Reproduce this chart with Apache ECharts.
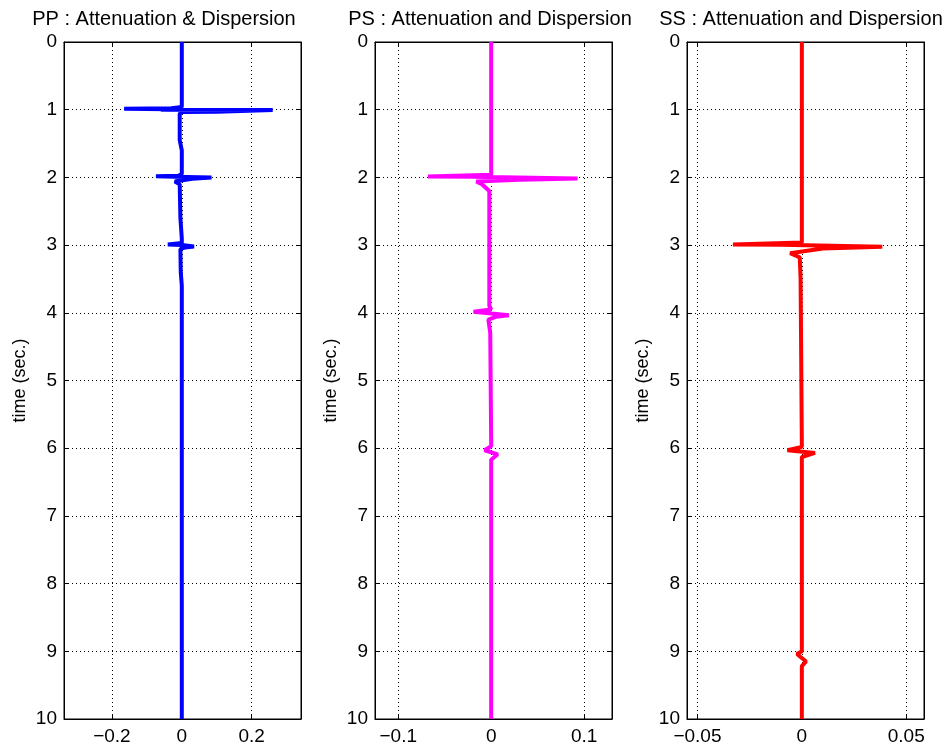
<!DOCTYPE html>
<html>
<head>
<meta charset="utf-8">
<script src="https://cdn.jsdelivr.net/npm/echarts@6/dist/echarts.min.js"></script>
<style>
  html, body { margin: 0; padding: 0; background: #fff; }
  #chart { width: 946px; height: 751px; }
</style>
</head>
<body>
<div id="chart"></div>
<script>
// traces: [amplitude, time (s)]
const ppTrace = [
  [0, 0], [0, 0.96], [-0.03, 0.978], [-0.165, 0.985], [-0.04, 0.992], [-0.06, 1.0],
  [0.26, 1.005], [0.262, 1.015], [0.1, 1.03], [0, 1.035], [-0.006, 1.06],
  [-0.006, 1.45], [0, 1.6], [0, 1.95], [-0.01, 1.975], [-0.074, 1.982],
  [-0.02, 1.99], [0.085, 2.0], [0.088, 2.012], [0.03, 2.02], [-0.02, 2.06],
  [-0.006, 2.1], [-0.004, 2.6], [0, 2.9], [0, 2.97], [-0.04, 2.99], [0, 3.0],
  [0.035, 3.02], [0.01, 3.035], [-0.004, 3.06], [-0.003, 3.4], [0, 3.6], [0, 10]
];
const psTrace = [
  [0, 0], [0, 1.96], [-0.068, 1.985], [-0.02, 1.99], [0.093, 2.015], [0.092, 2.025],
  [0.03, 2.035], [-0.016, 2.06], [-0.01, 2.1], [-0.002, 2.2], [-0.002, 3.9],
  [0, 3.95], [-0.019, 3.985], [0.019, 4.035], [0.005, 4.06], [-0.003, 4.1],
  [-0.001, 4.3], [0, 5.9], [0, 5.97], [-0.007, 6.03], [0.007, 6.09], [0, 6.17],
  [0, 10]
];
const ssTrace = [
  [0, 0], [0, 2.96], [-0.033, 2.99], [-0.01, 2.995], [0.0385, 3.025], [0.038, 3.035],
  [0.01, 3.05], [-0.0056, 3.12], [-0.001, 3.18], [-0.0006, 3.5], [0, 5.95],
  [0, 5.98], [-0.0069, 6.03], [0.0063, 6.07], [0, 6.13], [0, 9.0],
  [0, 9.01], [-0.0023, 9.04], [0.002, 9.15], [0, 9.22], [0, 10]
];

const titles = ['PP : Attenuation & Dispersion', 'PS : Attenuation and Dispersion', 'SS : Attenuation and Dispersion'];
const xTicks = [[-0.2, 0, 0.2], [-0.1, 0, 0.1], [-0.05, 0, 0.05]];
const xRanges = [[-0.337, 0.341], [-0.125, 0.13], [-0.055, 0.0585]];
const traces = [ppTrace, psTrace, ssTrace];
const colors = ['#0000ff', '#ff00ff', '#ff0000'];

const panelLeft = [64, 375, 687];
const panelW = 237;
const plotTop = 42, plotH = 677;
const titleCenter = [164, 490, 801];
const font = 'Liberation Sans, Arial, sans-serif';

const grid = [], xAxis = [], yAxis = [], series = [], title = [];

const fmt = v => (v < 0 ? '\u2212' + String(-v) : String(v));

for (let i = 0; i < 3; i++) {
  grid.push({
    left: panelLeft[i], top: plotTop, width: panelW, height: plotH,
    show: true, borderColor: '#000', borderWidth: 1, backgroundColor: '#fff'
  });
  title.push({
    text: titles[i], left: titleCenter[i], top: 9, textAlign: 'center', padding: 0,
    textStyle: { fontFamily: font, fontSize: 20, fontWeight: 'normal', color: '#000' }
  });
  xAxis.push({
    type: 'value', gridIndex: i, position: 'bottom',
    min: xRanges[i][0], max: xRanges[i][1],
    axisLine: { onZero: false, lineStyle: { color: '#000' } },
    axisTick: { inside: true, length: 5, customValues: xTicks[i], lineStyle: { color: '#000' } },
    axisLabel: { customValues: xTicks[i], color: '#000', fontFamily: font, fontSize: 19, margin: 8,
      formatter: fmt },
    splitLine: { show: true, lineStyle: { color: '#000', type: [1, 3], width: 1 } }
  });
  yAxis.push({
    type: 'value', gridIndex: i, inverse: true, min: 0, max: 10, interval: 1,
    name: 'time (sec.)', nameLocation: 'middle', nameGap: 35,
    nameTextStyle: { color: '#000', fontFamily: font, fontSize: 18 },
    axisLine: { show: true, onZero: false, lineStyle: { color: '#000' } },
    axisTick: { show: true, inside: true, length: 5, lineStyle: { color: '#000' } },
    axisLabel: { color: '#000', fontFamily: font, fontSize: 19, margin: 7 },
    splitLine: { show: true, lineStyle: { color: '#000', type: [1, 3], width: 1 } }
  });
}
// top and right tick marks
for (let i = 0; i < 3; i++) {
  xAxis.push({
    type: 'value', gridIndex: i, position: 'top',
    min: xRanges[i][0], max: xRanges[i][1],
    axisLine: { show: true, onZero: false, lineStyle: { color: '#000' } },
    axisTick: { inside: true, length: 5, customValues: xTicks[i], lineStyle: { color: '#000' } },
    axisLabel: { show: false }, splitLine: { show: false }
  });
  yAxis.push({
    type: 'value', gridIndex: i, position: 'right', inverse: true, min: 0, max: 10, interval: 1,
    axisLine: { show: true, onZero: false, lineStyle: { color: '#000' } },
    axisTick: { show: true, inside: true, length: 5, lineStyle: { color: '#000' } },
    axisLabel: { show: false }, splitLine: { show: false }
  });
}
for (let i = 0; i < 3; i++) {
  series.push({
    type: 'line', xAxisIndex: i, yAxisIndex: i, data: traces[i],
    showSymbol: false, clip: true,
    lineStyle: { color: colors[i], width: 4 }
  });
}

const chart = echarts.init(document.getElementById('chart'));
chart.setOption({ animation: false, backgroundColor: '#fff', title, grid, xAxis, yAxis, series });
</script>
</body>
</html>
